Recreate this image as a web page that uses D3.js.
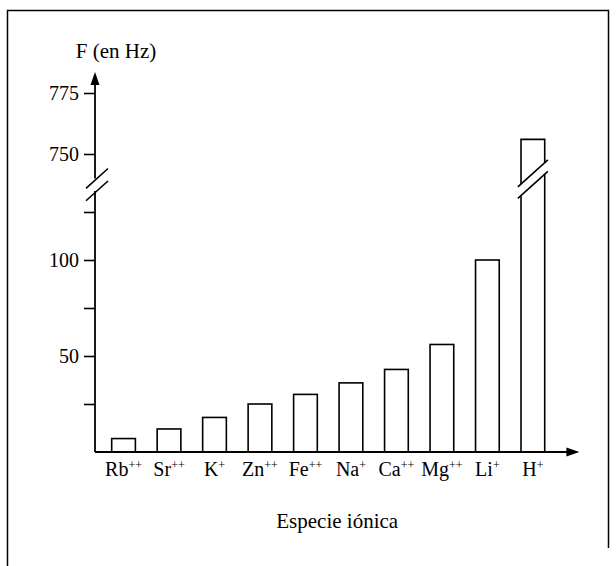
<!DOCTYPE html>
<html>
<head>
<meta charset="utf-8">
<script src="https://cdn.jsdelivr.net/npm/d3@7"></script>
<style>
body { margin: 0; background: #fff; }
svg text { font-family: "Liberation Serif", "DejaVu Serif", "Times New Roman", Times, serif !important; fill: #000; }
</style>
</head>
<body>
<div id="graphic"></div>
<script>
// ion species, their charge and frequency (Hz)
var ions = ["Rb", "Sr", "K", "Zn", "Fe", "Na", "Ca", "Mg", "Li", "H"];
var charges = ["++", "++", "+", "++", "++", "+", "++", "++", "+", "+"];
var freqs = [7, 12, 18, 25, 30, 36, 43, 56, 100, 756];
var lowTicks = [25, 50, 75, 100, 125];
var lowLabels = [50, 100];
var highTicks = [750, 775];
var breakLow = 136, breakHigh = 740; // axis is cut between these values

var serif = "'Liberation Serif', 'DejaVu Serif', 'Times New Roman', serif";
var width = 616, height = 566;

var svg = d3.select("#graphic").append("svg")
    .attr("width", width)
    .attr("height", height);

// frame round the figure (no bottom edge, it is cropped)
svg.append("path")
    .attr("d", "M7.5,566V10.5H608.5V548")
    .attr("fill", "none")
    .attr("stroke", "#000")
    .attr("stroke-width", 1.5);

var x = d3.scaleBand()
    .domain(ions)
    .range([95, 561.4])
    .paddingInner(0.479)
    .paddingOuter(0.367);

var yLow = d3.scaleLinear().domain([0, 125]).range([452, 212]);
var yHigh = d3.scaleLinear().domain([750, 775]).range([154, 93]);
var y = v => v > breakLow ? yHigh(v) : yLow(v);

var x0 = x.range()[0];
var slope = 0.9;

// y axis ticks, two pieces
var gLow = svg.append("g")
    .attr("transform", "translate(" + x0 + ",0)")
    .call(d3.axisLeft(yLow).tickValues(lowTicks).tickSize(11).tickPadding(5)
        .tickFormat(d => lowLabels.includes(d) ? d : ""));
var gHigh = svg.append("g")
    .attr("transform", "translate(" + x0 + ",0)")
    .call(d3.axisLeft(yHigh).tickValues(highTicks).tickSize(11).tickPadding(5));
[gLow, gHigh].forEach(function (g) {
    g.attr("font-family", serif).attr("font-size", 20);
    g.select(".domain").remove();
    g.selectAll(".tick line").attr("stroke-width", 1.6);
});

// y axis line, cut by the break
var yTop = yHigh.range()[1] - 21;
var cutUp = yHigh(breakHigh), cutDown = yLow(breakLow);
svg.append("line").attr("x1", x0).attr("x2", x0)
    .attr("y1", yLow(0)).attr("y2", cutDown)
    .attr("stroke", "#000").attr("stroke-width", 1.8);
svg.append("line").attr("x1", x0).attr("x2", x0)
    .attr("y1", cutUp).attr("y2", yTop + 10)
    .attr("stroke", "#000").attr("stroke-width", 1.8);
svg.append("path")
    .attr("d", "M" + x0 + "," + yTop + "L" + (x0 + 4.5) + "," + (yTop + 13) + "L" + (x0 - 4.5) + "," + (yTop + 13) + "Z")
    .attr("fill", "#000");

function slashes(cx, cyUp, cyDown, hw) {
    [cyUp, cyDown].forEach(function (cy) {
        svg.append("line")
            .attr("x1", cx - hw).attr("y1", cy + hw * slope)
            .attr("x2", cx + hw).attr("y2", cy - hw * slope)
            .attr("stroke", "#000").attr("stroke-width", 1.6);
    });
}
slashes(x0 + 2, cutUp, cutDown, 11);

// bars
var bw = x.bandwidth();
ions.forEach(function (ion, i) {
    var v = freqs[i], xl = x(ion), xr = xl + bw;
    if (v <= breakLow) {
        svg.append("rect")
            .attr("x", xl).attr("y", y(v))
            .attr("width", bw).attr("height", yLow(0) - y(v))
            .attr("fill", "#fff").attr("stroke", "#000").attr("stroke-width", 1.6);
    } else {
        var cx = xl + bw / 2, shift = -5;
        var up = cutUp + shift, dn = cutDown + shift - 1;
        var h = bw / 2 * slope;
        svg.append("path")
            .attr("d", "M" + xl + "," + (up + h) + "V" + y(v) + "H" + xr + "V" + (up - h))
            .attr("fill", "#fff").attr("stroke", "#000").attr("stroke-width", 1.6);
        svg.append("path")
            .attr("d", "M" + xl + "," + (dn + h) + "V" + yLow(0) + "H" + xr + "V" + (dn - h))
            .attr("fill", "#fff").attr("stroke", "#000").attr("stroke-width", 1.6);
        slashes(cx, up, dn, 15);
    }
});

// x axis with arrow
var xTip = x.range()[1] + 18;
svg.append("line")
    .attr("x1", x0).attr("x2", xTip - 10)
    .attr("y1", yLow(0)).attr("y2", yLow(0))
    .attr("stroke", "#000").attr("stroke-width", 1.8);
svg.append("path")
    .attr("d", "M" + xTip + "," + yLow(0) + "L" + (xTip - 13) + "," + (yLow(0) - 4.5) + "L" + (xTip - 13) + "," + (yLow(0) + 4.5) + "Z")
    .attr("fill", "#000");

// category labels with charge as superscript
var labels = svg.selectAll(".ion")
    .data(ions)
    .enter()
    .append("text")
    .attr("class", "ion")
    .attr("x", d => x(d) + bw / 2)
    .attr("y", yLow(0) + 24)
    .attr("text-anchor", "middle")
    .attr("font-family", serif)
    .attr("font-size", 20);
labels.append("tspan").text(d => d);
labels.append("tspan")
    .attr("dy", -7)
    .attr("font-size", 12)
    .text((d, i) => charges[i]);

svg.append("text")
    .attr("x", (x0 + xTip) / 2)
    .attr("y", yLow(0) + 76)
    .attr("text-anchor", "middle")
    .attr("font-family", serif)
    .attr("font-size", 21)
    .text("Especie iónica");

svg.append("text")
    .attr("x", x0 + 21)
    .attr("y", 58)
    .attr("text-anchor", "middle")
    .attr("font-family", serif)
    .attr("font-size", 21)
    .text("F (en Hz)");
</script>
</body>
</html>
